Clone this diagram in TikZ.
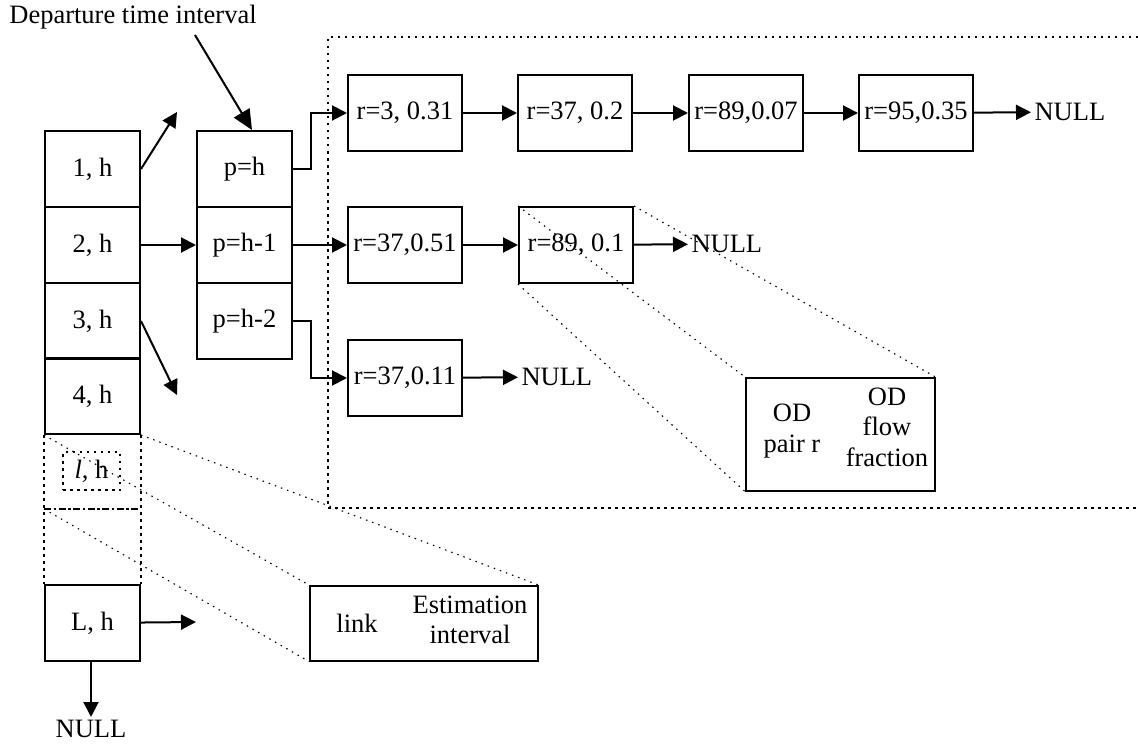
\documentclass[tikz,border=0pt]{standalone}
\usepackage{fontspec}
\setmainfont{Liberation Serif}
\usetikzlibrary{arrows.meta}
\begin{document}
\begin{tikzpicture}[x=1pt,y=-1pt,
  font=\fontsize{26.5}{30.5}\selectfont,
  cell/.style={draw, line width=2pt, minimum width=95pt, minimum height=76pt, inner sep=0pt, anchor=north west},
  rbox/.style={draw, line width=2pt, minimum width=114pt, minimum height=76pt, inner sep=0pt, anchor=north west},
  infobox/.style={draw, line width=1.5pt, inner sep=0pt, anchor=north west},
  arr/.style={line width=2pt, -{Triangle[length=15pt,width=15pt]}},
  bigarr/.style={line width=2pt, -{Triangle[length=20pt,width=18pt]}},
  frame/.style={line width=2pt, dash pattern=on 2.5pt off 4.5pt},
  divider/.style={line width=2pt, dash pattern=on 7pt off 2.5pt on 2.5pt off 2.5pt},
  zoomline/.style={line width=1.1pt, dash pattern=on 1.5pt off 5pt},
  lbl/.style={inner sep=0pt, align=center},
  nulltext/.style={anchor=west}]

\useasboundingbox (0,0) rectangle (1138,749);

% dotted frame around the OD lists
\draw[frame] (1138,37) -- (328,37) -- (328,508) -- (1138,508);

% link / estimation interval column
\node[cell] (c1) at (44,130) {1, h};
\node[cell] (c2) at (44,206) {2, h};
\node[cell] (c3) at (44,282) {3, h};
\node[cell] (c4) at (44,357) {4, h};
\node[cell] (cL) at (44,584) {L, h};

% elided part of the column
\coordinate (lsw) at (44,509);
\coordinate (lse) at (139,509);
\draw[frame] (c4.south west) -- (cL.north west);
\draw[frame] (c4.south east) -- (cL.north east);
\draw[divider] (lsw) -- (lse);
\node[frame, draw, minimum width=57pt, minimum height=38pt, inner sep=0pt] (lh) at (91.5,471) {\textit{l}, h};

% departure time intervals
\node[cell] (p0) at (196,130) {p=h};
\node[cell] (p1) at (196,206) {p=h-1};
\node[cell] (p2) at (196,282) {p=h-2};

\node (dep) at (133,17) {Departure time interval};
\coordinate (depstart) at (195,35);
\coordinate (deptip) at (252,130);
\draw[bigarr] (depstart) -- (deptip);

% OD lists
\node[rbox] (r11) at (347,74) {r=3, 0.31};
\node[rbox] (r12) at (517,74) {r=37, 0.2};
\node[rbox] (r13) at (688,74) {r=89,0.07};
\node[rbox] (r14) at (858,74) {r=95,0.35};
\node[nulltext] (n1) at (1031,112) {NULL};

\node[rbox] (r21) at (347,206) {r=37,0.51};
\node[rbox] (r22) at (518,206) {r=89, 0.1};
\node[nulltext] (n2) at (688,244) {NULL};

\node[rbox] (r31) at (347,339) {r=37,0.11};
\node[nulltext] (n3) at (518,377) {NULL};

\node[anchor=north] (nL) at (91,717) {NULL};

% connectors
\coordinate (e1) at (177,112);
\coordinate (e3) at (177,395);
\coordinate (eL) at (196,622);
\draw[arr] (c1.east) -- (e1);
\draw[arr] (c2) -- (p1);
\draw[arr] (c3.east) -- (e3);
\draw[arr] (cL) -- (eL);
\draw[arr] (cL.south -| nL) -- (nL);

\draw[arr] (p0.east) -- ++(18,0) |- (r11.west);
\draw[arr] (p1) -- (r21);
\draw[arr] (p2.east) -- ++(18,0) |- (r31.west);

\draw[arr] (r11) -- (r12);
\draw[arr] (r12) -- (r13);
\draw[arr] (r13) -- (r14);
\draw[arr] (r14) -- (n1);
\draw[arr] (r21) -- (r22);
\draw[arr] (r22) -- (n2);
\draw[arr] (r31) -- (n3);

% record layouts
\node[infobox, minimum width=228pt, minimum height=75pt] (est) at (309,585) {};
\node[lbl] (estlink) at (357,623) {link};
\node[lbl] (estint) at (470,620) {Estimation\\interval};

\node[infobox, minimum width=189pt, minimum height=113pt] (od) at (745,377) {};
\node[lbl] (odpair) at (792,431) {OD\\pair r};
\node[lbl] (odflow) at (887,427) {OD\\flow\\fraction};

% zoom-in guides
\draw[zoomline] (r22.north west) -- (od.north west);
\draw[zoomline] (r22.north east) -- (od.north east);
\draw[zoomline] (r22.south west) -- (od.south west);

\draw[zoomline] (c4.south west) -- (est.north west);
\draw[zoomline] (c4.south east) -- (est.north east);
\draw[zoomline] (lsw) -- (est.south west);
\end{tikzpicture}
\end{document}
